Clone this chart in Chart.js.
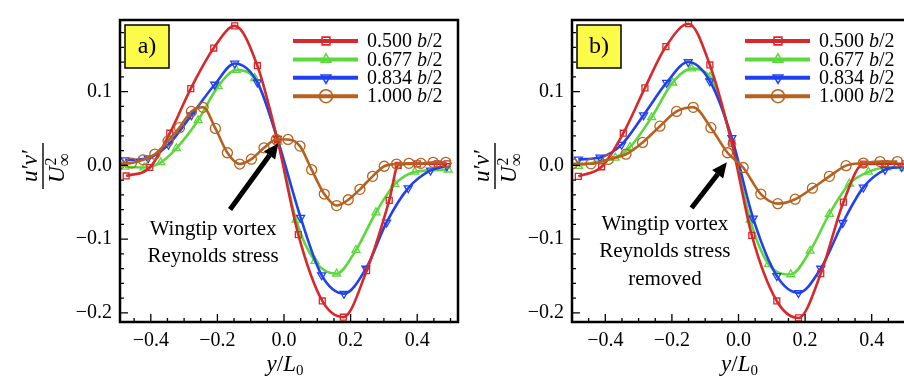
<!DOCTYPE html>
<html>
<head>
<meta charset="utf-8">
<script src="https://cdn.jsdelivr.net/npm/chart.js@4.4.0/dist/chart.umd.min.js"></script>
<style>
  html, body { margin: 0; padding: 0; background: #fff; overflow: hidden; }
  #wrap { position: relative; width: 904px; height: 378px; overflow: hidden; background: #fff; }
  .panel { position: absolute; top: 0; width: 470px; height: 378px; }
</style>
</head>
<body>
<div id="wrap">
  <div class="panel" style="left:0"><canvas id="chartA" width="470" height="378"></canvas></div>
  <div class="panel" style="left:452px"><canvas id="chartB" width="470" height="378"></canvas></div>
</div>
<script>
// spanwise stations (legend)
var seriesLabels = ['0.500', '0.677', '0.834', '1.000'];

// panel a) : y/L0 and u'v'/U^2
var a500x = [-0.474, -0.403, -0.343, -0.280, -0.211, -0.148, -0.080, -0.020, 0.043, 0.115, 0.178, 0.248, 0.316, 0.343, 0.400, 0.460, 0.490];
var a500y = [-0.0145, -0.003, 0.0435, 0.104, 0.159, 0.189, 0.135, 0.035, -0.094, -0.184, -0.206, -0.143, -0.0475, 0.0, 0.002, 0.002, 0.002];
var a677x = [-0.478, -0.420, -0.370, -0.323, -0.258, -0.198, -0.143, -0.088, -0.018, 0.036, 0.093, 0.158, 0.216, 0.276, 0.333, 0.393, 0.493];
var a677y = [-0.002, -0.003, 0.004, 0.023, 0.061, 0.107, 0.129, 0.118, 0.032, -0.074, -0.130, -0.147, -0.115, -0.064, -0.0256, -0.009, -0.006];
var a834x = [-0.477, -0.408, -0.347, -0.278, -0.208, -0.148, -0.080, -0.020, 0.050, 0.113, 0.180, 0.246, 0.308, 0.373, 0.440, 0.489];
var a834y = [0.007, 0.0096, 0.028, 0.068, 0.1095, 0.138, 0.1125, 0.036, -0.071, -0.149, -0.174, -0.140, -0.0775, -0.031, -0.007, -0.001];
var a1000x = [-0.493, -0.458, -0.423, -0.388, -0.348, -0.314, -0.278, -0.243, -0.206, -0.170, -0.133, -0.098, -0.060, -0.023, 0.012, 0.048, 0.083, 0.121, 0.158, 0.193, 0.228, 0.266, 0.301, 0.338, 0.375, 0.411, 0.448, 0.486];
var a1000y = [0.002, 0.003, 0.0074, 0.015, 0.033, 0.051, 0.073, 0.0786, 0.050, 0.017, 0.0017, 0.0083, 0.0237, 0.035, 0.035, 0.026, -0.006, -0.039, -0.0546, -0.0467, -0.0326, -0.015, -0.0013, 0.0017, 0.0026, 0.0026, 0.004, 0.004];

// panel b) : same stations, wingtip vortex stress removed
var b500x = [-0.481, -0.411, -0.346, -0.281, -0.218, -0.150, -0.086, -0.020, 0.040, 0.115, 0.180, 0.247, 0.315, 0.375, 0.440, 0.500];
var b500y = [-0.015, -0.002, 0.0435, 0.105, 0.161, 0.192, 0.136, 0.030, -0.095, -0.184, -0.207, -0.147, -0.050, 0.0017, 0.002, 0.002];
var b677x = [-0.481, -0.411, -0.370, -0.326, -0.261, -0.198, -0.141, -0.086, -0.020, 0.035, 0.090, 0.157, 0.215, 0.273, 0.333, 0.390, 0.445, 0.497];
var b677y = [-0.001, 0.006, 0.010, 0.0245, 0.065, 0.112, 0.131, 0.120, 0.032, -0.074, -0.134, -0.148, -0.116, -0.066, -0.025, -0.009, -0.003, -0.004];
var b834x = [-0.481, -0.416, -0.351, -0.285, -0.216, -0.151, -0.086, -0.020, 0.044, 0.115, 0.180, 0.247, 0.313, 0.375, 0.440, 0.490];
var b834y = [0.008, 0.0106, 0.028, 0.068, 0.112, 0.140, 0.114, 0.037, -0.072, -0.150, -0.173, -0.140, -0.078, -0.030, -0.006, -0.002];
var b1000x = [-0.498, -0.443, -0.391, -0.338, -0.288, -0.236, -0.186, -0.136, -0.083, -0.033, 0.014, 0.067, 0.118, 0.170, 0.222, 0.273, 0.323, 0.375, 0.425, 0.477];
var b1000y = [0.002, 0.002, 0.008, 0.015, 0.031, 0.053, 0.073, 0.0786, 0.051, 0.017, -0.003, -0.039, -0.052, -0.046, -0.031, -0.015, -0.0005, 0.003, 0.005, 0.005];

// tick labels
var xTicks = [-0.4, -0.2, 0.0, 0.2, 0.4];
var yTicks = [-0.2, -0.1, 0.0, 0.1];

var FONT = '"Liberation Serif", "Times New Roman", serif';
var colors = ['#d8282b', '#5cd83c', '#2141f0', '#b6611f'];
var markers = [
	{ pointStyle: 'rect', rotation: 0, radius: 4.2 },
	{ pointStyle: 'triangle', rotation: 0, radius: 4.6 },
	{ pointStyle: 'triangle', rotation: 180, radius: 4.6 },
	{ pointStyle: 'circle', rotation: 0, radius: 5 }
];
var drawOrder = [1, 3, 2, 0]; // brown on top

function fmt(v) {
	var s = Math.abs(v) < 1e-9 ? '0.0' : v.toFixed(1);
	return s.replace('-', '\u2212');
}

function makeDatasets(list) {
	return list.map(function(s, i) {
		return {
			label: seriesLabels[i] + ' b/2',
			data: s[0].map(function(x, k) { return { x: x, y: s[1][k] }; }),
			borderColor: colors[i],
			borderWidth: 2.6,
			pointStyle: markers[i].pointStyle,
			pointRotation: markers[i].rotation,
			pointRadius: markers[i].radius,
			pointBorderColor: colors[i],
			pointBackgroundColor: 'rgba(0,0,0,0)',
			pointBorderWidth: 1.3,
			cubicInterpolationMode: 'monotone',
			fill: false,
			order: drawOrder[i]
		};
	});
}

// text pieces: [text, italic, sizeFactor, dy]
function drawPieces(ctx, pieces, x, y, size, align) {
	var total = 0;
	pieces.forEach(function(p) {
		ctx.font = (p[1] ? 'italic ' : '') + Math.round(size * (p[2] || 1)) + 'px ' + FONT;
		p.w = ctx.measureText(p[0]).width;
		total += p.w;
	});
	var cx = align === 'center' ? x - total / 2 : x;
	pieces.forEach(function(p) {
		ctx.font = (p[1] ? 'italic ' : '') + Math.round(size * (p[2] || 1)) + 'px ' + FONT;
		ctx.textAlign = 'left';
		ctx.fillText(p[0], cx, y + (p[3] || 0));
		cx += p.w;
	});
}

function decorPlugin(tag, note, arrow) {
	return {
		id: 'decor',
		afterDraw: function(chart) {
			var ctx = chart.ctx, a = chart.chartArea, xs = chart.scales.x, ys = chart.scales.y;
			ctx.save();
			ctx.fillStyle = '#000';
			ctx.strokeStyle = '#000';

			// frame
			ctx.lineWidth = 2.5;
			ctx.strokeRect(a.left, a.top, a.right - a.left, a.bottom - a.top);

			// inward ticks
			ctx.lineWidth = 1.3;
			ctx.beginPath();
			for (var k = -20; k <= 20; k++) {
				var px = xs.getPixelForValue(k * 0.05);
				if (px < a.left + 2 || px > a.right - 2) continue;
				var len = (k % 4 === 0) ? 8 : 4;
				ctx.moveTo(px, a.bottom);
				ctx.lineTo(px, a.bottom - len);
			}
			for (var j = -15; j <= 15; j++) {
				var py = ys.getPixelForValue(j * 0.02);
				if (py < a.top + 2 || py > a.bottom - 2) continue;
				var len2 = (j % 5 === 0) ? 8 : 4;
				ctx.moveTo(a.left, py);
				ctx.lineTo(a.left + len2, py);
			}
			ctx.stroke();

			// panel tag
			ctx.fillStyle = '#fdfb4a';
			ctx.fillRect(a.left + 5, a.top + 5, 44, 43);
			ctx.lineWidth = 1.5;
			ctx.strokeRect(a.left + 5, a.top + 5, 44, 43);
			ctx.fillStyle = '#000';
			ctx.font = '24px ' + FONT;
			ctx.textAlign = 'center';
			ctx.textBaseline = 'middle';
			ctx.fillText(tag, a.left + 27, a.top + 27);

			// legend
			ctx.textBaseline = 'middle';
			chart.data.datasets.forEach(function(ds, i) {
				var ly = a.top + 21 + i * 18.4;
				ctx.strokeStyle = colors[i];
				ctx.lineWidth = 4;
				ctx.beginPath();
				ctx.moveTo(a.right - 165, ly);
				ctx.lineTo(a.right - 100, ly);
				ctx.stroke();
				ctx.lineWidth = 1.6;
				ctx.fillStyle = 'rgba(0,0,0,0)';
				Chart.helpers.drawPoint(ctx, {
					pointStyle: markers[i].pointStyle,
					rotation: markers[i].rotation,
					radius: markers[i].pointStyle === 'circle' ? 6.5 : 5.5,
					borderWidth: 1.6
				}, a.right - 132, ly);
				ctx.fillStyle = '#000';
				drawPieces(ctx, [[seriesLabels[i] + ' ', false], ['b', true], ['/2', false]], a.right - 91, ly + 1, 20, 'left');
			});

			// note + arrow
			ctx.fillStyle = '#000';
			ctx.textBaseline = 'middle';
			ctx.textAlign = 'center';
			ctx.font = '21px ' + FONT;
			note.lines.forEach(function(t, i) {
				ctx.fillText(t, xs.getPixelForValue(note.x), ys.getPixelForValue(note.y) + i * 27.5);
			});
			var x0 = xs.getPixelForValue(arrow[0]), y0 = ys.getPixelForValue(arrow[1]);
			var x1 = xs.getPixelForValue(arrow[2]), y1 = ys.getPixelForValue(arrow[3]);
			var ang = Math.atan2(y1 - y0, x1 - x0), hl = 15, hw = 7;
			var bx = x1 - hl * Math.cos(ang), by = y1 - hl * Math.sin(ang);
			ctx.strokeStyle = '#000';
			ctx.lineWidth = 5;
			ctx.beginPath();
			ctx.moveTo(x0, y0);
			ctx.lineTo(bx, by);
			ctx.stroke();
			ctx.beginPath();
			ctx.moveTo(x1, y1);
			ctx.lineTo(bx + hw * Math.sin(ang), by - hw * Math.cos(ang));
			ctx.lineTo(bx - hw * Math.sin(ang), by + hw * Math.cos(ang));
			ctx.closePath();
			ctx.fill();

			// y axis title  u'v' / U_inf^2
			ctx.save();
			ctx.translate(a.left - 77, 166);
			ctx.rotate(-Math.PI / 2);
			ctx.textBaseline = 'alphabetic';
			drawPieces(ctx, [['u\u2032v\u2032', true]], 0, -6, 23, 'center');
			ctx.lineWidth = 1.4;
			ctx.beginPath();
			ctx.moveTo(-23, 0);
			ctx.lineTo(23, 0);
			ctx.stroke();
			ctx.font = 'italic 23px ' + FONT;
			var uw = ctx.measureText('U').width;
			ctx.textAlign = 'left';
			ctx.fillText('U', -17, 21);
			ctx.font = '16px ' + FONT;
			ctx.fillText('2', -17 + uw + 1, 13);
			ctx.font = '18px ' + FONT;
			ctx.fillText('\u221E', -17 + uw, 27);
			ctx.restore();

			// x axis title  y/L0
			ctx.textBaseline = 'alphabetic';
			drawPieces(ctx, [['y', true], ['/', false], ['L', true], ['0', false, 0.65, 4]],
				xs.getPixelForValue(0) + 1, 371, 23, 'center');

			ctx.restore();
		}
	};
}

function buildPanel(id, series, xMin, xMax, tag, note, arrow) {
	var ctx = document.getElementById(id).getContext('2d');
	new Chart(ctx, {
		type: 'line',
		data: { datasets: makeDatasets(series) },
		options: {
			responsive: false,
			animation: false,
			layout: { padding: { left: 0, right: 12, top: 12, bottom: 0 } },
			plugins: { legend: { display: false }, tooltip: { enabled: false } },
			scales: {
				x: {
					type: 'linear', min: xMin, max: xMax,
					grid: { display: false, drawTicks: false },
					border: { display: false },
					afterBuildTicks: function(s) { s.ticks = xTicks.map(function(v) { return { value: v }; }); },
					afterFit: function(s) { s.height = 56; },
					ticks: { padding: 7, color: '#000', font: { family: FONT, size: 20 }, maxRotation: 0, autoSkip: false, callback: fmt }
				},
				y: {
					type: 'linear', min: -0.2125, max: 0.197,
					grid: { display: false, drawTicks: false },
					border: { display: false },
					afterBuildTicks: function(s) { s.ticks = yTicks.map(function(v) { return { value: v }; }); },
					afterFit: function(s) { s.width = 120; },
					ticks: { padding: 8, color: '#000', font: { family: FONT, size: 20 }, callback: fmt }
				}
			}
		},
		plugins: [decorPlugin(tag, note, arrow)]
	});
}

buildPanel('chartA',
	[[a500x, a500y], [a677x, a677y], [a834x, a834y], [a1000x, a1000y]],
	-0.4925, 0.5225, 'a)',
	{ x: -0.213, y: -0.0866, lines: ['Wingtip vortex', 'Reynolds stress'] },
	[-0.162, -0.060, -0.017, 0.030]);

buildPanel('chartB',
	[[b500x, b500y], [b677x, b677y], [b834x, b834y], [b1000x, b1000y]],
	-0.500, 0.515, 'b)',
	{ x: -0.221, y: -0.080, lines: ['Wingtip vortex', 'Reynolds stress', 'removed'] },
	[-0.141, -0.058, -0.035, 0.004]);
</script>
</body>
</html>
